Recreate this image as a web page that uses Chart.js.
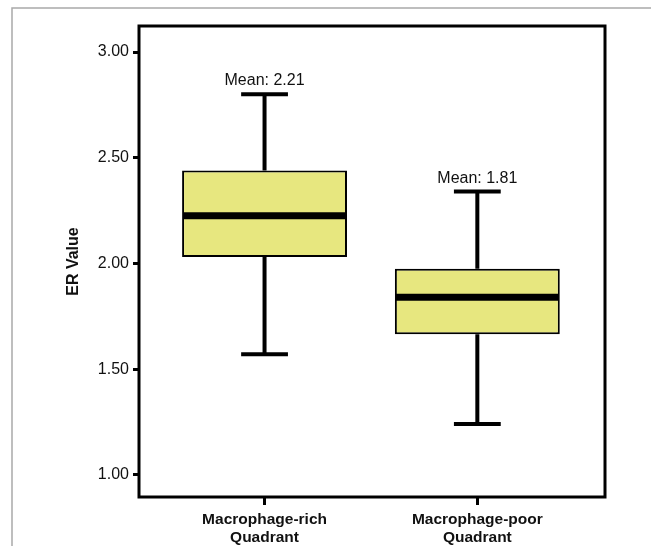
<!DOCTYPE html>
<html>
<head>
<meta charset="utf-8">
<script src="https://cdn.jsdelivr.net/npm/chart.js@4.4.1/dist/chart.umd.min.js"></script>
<style>
  html, body { margin: 0; padding: 0; background: #fff; }
  #wrap { width: 651px; height: 546px; }
</style>
</head>
<body>
<div id="wrap"><canvas id="chart" width="651" height="546"></canvas></div>
<script>
// box plot values
const categories = [['Macrophage-rich', 'Quadrant'], ['Macrophage-poor', 'Quadrant']];
const whiskerLow = [1.57, 1.24];
const q1 = [2.03, 1.665];
const median = [2.225, 1.84];
const q3 = [2.44, 1.975];
const whiskerHigh = [2.80, 2.34];
const means = [2.21, 1.81];
const yTicks = [1.00, 1.50, 2.00, 2.50, 3.00];

const FONT = '"Liberation Sans", Arial, Helvetica, sans-serif';
const BOX_FILL = '#e7e77f';
const BOX_W = 0.775;   // box width, in x units
const CAP_W = 0.22;    // whisker cap width, in x units

const boxParts = {
  id: 'boxParts',
  beforeDraw(chart) {
    const ctx = chart.ctx;
    ctx.save();
    ctx.strokeStyle = '#a9a9a9';
    ctx.lineWidth = 1.5;
    ctx.beginPath();
    ctx.moveTo(12, chart.height);
    ctx.lineTo(12, 8);
    ctx.lineTo(chart.width, 8);
    ctx.stroke();
    ctx.restore();
  },
  afterDatasetsDraw(chart) {
    const ctx = chart.ctx;
    const x = chart.scales.x, y = chart.scales.y;
    ctx.save();
    ctx.strokeStyle = '#000';
    ctx.lineCap = 'butt';
    categories.forEach((c, i) => {
      const cx = x.getPixelForValue(i + 1);
      const bl = x.getPixelForValue(i + 1 - BOX_W / 2);
      const br = x.getPixelForValue(i + 1 + BOX_W / 2);
      const cl = x.getPixelForValue(i + 1 - CAP_W / 2);
      const cr = x.getPixelForValue(i + 1 + CAP_W / 2);
      // whiskers
      ctx.lineWidth = 4;
      ctx.beginPath();
      ctx.moveTo(cx, y.getPixelForValue(q3[i]));
      ctx.lineTo(cx, y.getPixelForValue(whiskerHigh[i]));
      ctx.moveTo(cx, y.getPixelForValue(q1[i]));
      ctx.lineTo(cx, y.getPixelForValue(whiskerLow[i]));
      ctx.stroke();
      // caps
      ctx.beginPath();
      ctx.moveTo(cl, y.getPixelForValue(whiskerHigh[i]));
      ctx.lineTo(cr, y.getPixelForValue(whiskerHigh[i]));
      ctx.moveTo(cl, y.getPixelForValue(whiskerLow[i]));
      ctx.lineTo(cr, y.getPixelForValue(whiskerLow[i]));
      ctx.stroke();
      // median
      ctx.lineWidth = 7;
      ctx.beginPath();
      ctx.moveTo(bl + 1, y.getPixelForValue(median[i]));
      ctx.lineTo(br - 1, y.getPixelForValue(median[i]));
      ctx.stroke();
      // mean label
      ctx.fillStyle = '#111';
      ctx.font = '16px ' + FONT;
      ctx.textAlign = 'center';
      ctx.textBaseline = 'alphabetic';
      ctx.fillText('Mean: ' + means[i].toFixed(2), cx, y.getPixelForValue(whiskerHigh[i]) - 9);
    });
    // plot frame
    const a = chart.chartArea;
    ctx.lineWidth = 3;
    ctx.strokeRect(a.left, a.top, a.right - a.left, a.bottom - a.top);
    ctx.restore();
  }
};

new Chart(document.getElementById('chart'), {
  type: 'bar',
  data: {
    datasets: [{
      data: categories.map((c, i) => ({ x: i + 1, y: [q1[i], q3[i]] })),
      backgroundColor: BOX_FILL,
      borderColor: '#000',
      borderWidth: 2,
      borderSkipped: false,
      categoryPercentage: 1,
      barPercentage: BOX_W
    }]
  },
  options: {
    responsive: false,
    animation: false,
    layout: { padding: { top: 26, right: 46, left: 0, bottom: 0 } },
    plugins: { legend: { display: false }, tooltip: { enabled: false } },
    scales: {
      x: {
        type: 'linear',
        min: 0.41,
        max: 2.6,
        offset: false,
        afterBuildTicks: s => { s.ticks = categories.map((c, i) => ({ value: i + 1 })); },
        afterFit: s => { s.height = 49; },
        border: { display: false },
        grid: { offset: false, drawOnChartArea: false, drawTicks: true, tickLength: 8, tickWidth: 3, tickColor: '#000' },
        ticks: {
          padding: 6,
          color: '#111',
          font: { family: FONT, size: 15.5, weight: 'bold', lineHeight: 1.15 },
          maxRotation: 0,
          autoSkip: false,
          callback: v => categories[Math.round(v) - 1]
        }
      },
      y: {
        type: 'linear',
        min: 0.895,
        max: 3.123,
        afterBuildTicks: s => { s.ticks = yTicks.map(v => ({ value: v })); },
        afterFit: s => { s.width = 139; },
        border: { display: false },
        grid: { drawOnChartArea: false, drawTicks: true, tickLength: 6, tickWidth: 3, tickColor: '#000' },
        ticks: {
          padding: 4,
          color: '#111',
          font: { family: FONT, size: 16 },
          callback: v => Number(v).toFixed(2)
        },
        title: {
          display: true,
          text: 'ER Value',
          color: '#111',
          font: { family: FONT, size: 16, weight: 'bold', lineHeight: 1.2 },
          padding: { top: 64, bottom: 0 }
        }
      }
    }
  },
  plugins: [boxParts]
});
</script>
</body>
</html>
